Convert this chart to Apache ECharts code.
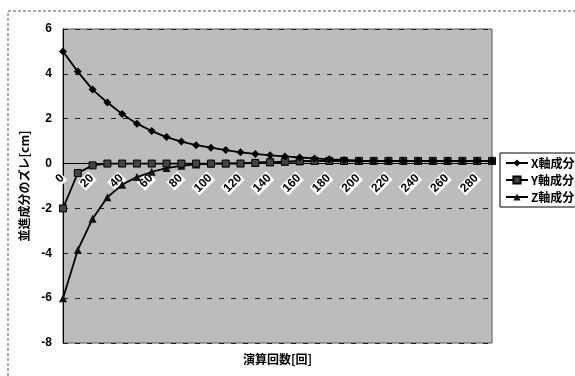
<!DOCTYPE html>
<html><head><meta charset="utf-8">
<script src="https://cdn.jsdelivr.net/npm/echarts@6/dist/echarts.min.js"></script>
<style>html,body{margin:0;padding:0;background:#fff}#c{width:575px;height:376px}</style>
</head><body><div id="c"></div>
<script>
const categories = ['0','10','20','30','40','50','60','70','80','90','100','110','120','130','140','150','160','170','180','190','200','210','220','230','240','250','260','270','280','290'];
const xSeries = [5.0,4.1,3.3,2.72,2.21,1.78,1.45,1.18,0.98,0.82,0.71,0.6,0.5,0.43,0.37,0.32,0.27,0.23,0.19,0.16,0.13,0.12,0.12,0.12,0.12,0.12,0.12,0.12,0.12,0.12];
const ySeries = [-2.0,-0.42,-0.08,0,0,0,0,0,0,0,0,0,0,0.03,0.06,0.09,0.11,0.12,0.12,0.12,0.12,0.12,0.12,0.12,0.12,0.12,0.12,0.12,0.12,0.12];
const zSeries = [-6.0,-3.85,-2.46,-1.5,-0.94,-0.6,-0.37,-0.2,-0.1,-0.04,0,0.01,0.02,0.04,0.06,0.08,0.1,0.11,0.12,0.12,0.12,0.12,0.12,0.12,0.12,0.12,0.12,0.12,0.12,0.12];
const seriesNames = ['X軸成分','Y軸成分','Z軸成分'];
const yTicks = {min:-8, max:6, interval:2};
const xTitle = '演算回数[回]';
const yTitle = '並進成分のズレ[cm]';

const FONT = '"Noto Sans CJK JP", sans-serif';
const NUMFONT = '"Liberation Sans", Arial, sans-serif';
const chart = echarts.init(document.getElementById('c'));
const lineStyle = {color:'#000', width:1.8};
chart.setOption({
  animation:false,
  backgroundColor:'#fff',
  graphic:[{type:'rect', shape:{x:8,y:11,width:640,height:420}, style:{fill:'none', stroke:'#555', lineWidth:1, lineDash:[3,2]}, z:-1}],
  title:{text:xTitle, left:243, top:353, padding:0, textStyle:{fontFamily:FONT, fontSize:12, fontWeight:'bold', color:'#000'}},
  grid:{left:63, right:83, top:29, bottom:33, outerBoundsMode:'none', show:true, backgroundColor:'#bcbcbc', borderColor:'#555', borderWidth:1},
  legend:{
    orient:'vertical', left:500, top:153, padding:[4,6,4,5], itemGap:5,
    itemWidth:22, itemHeight:9,
    borderColor:'#000', borderWidth:1, backgroundColor:'#fff',
    textStyle:{fontFamily:FONT, fontSize:12, fontWeight:'bold', color:'#000', padding:[0,0,0,-2]},
    data:seriesNames
  },
  xAxis:{
    type:'category', data:categories, boundaryGap:false, position:'bottom', offset:0,
    axisLine:{onZero:false, lineStyle:{color:'#000', width:1.2}},
    axisTick:{show:false},
    axisLabel:{interval:1, rotate:45, margin:12, fontFamily:NUMFONT, fontSize:12, fontWeight:'bold', color:'#000', backgroundColor:'#fff', padding:[0,1]},
    splitLine:{show:false}
  },
  yAxis:{
    type:'value', min:yTicks.min, max:yTicks.max, interval:yTicks.interval,
    name:yTitle, nameLocation:'middle', nameGap:33, nameRotate:90,
    nameTextStyle:{fontFamily:FONT, fontSize:12, fontWeight:'bold', color:'#000'},
    axisLine:{show:true, onZero:false, lineStyle:{color:'#000', width:1}},
    axisTick:{show:false},
    axisLabel:{margin:11, fontFamily:NUMFONT, fontSize:12, fontWeight:'bold', color:'#000'},
    splitLine:{show:true, lineStyle:{color:'#222', width:1, type:[5,7]}}
  },
  series:[
    {name:seriesNames[0], type:'line', data:xSeries, symbol:'diamond', symbolSize:8, lineStyle:lineStyle, itemStyle:{color:'#000'}, z:4},
    {name:seriesNames[1], type:'line', data:ySeries, symbol:'rect', symbolSize:7, lineStyle:lineStyle, itemStyle:{color:'#444', borderColor:'#000', borderWidth:1}, z:3},
    {name:seriesNames[2], type:'line', data:zSeries, symbol:'triangle', symbolSize:8, lineStyle:lineStyle, itemStyle:{color:'#111'}, z:2}
  ]
});
// Put the category axis on the y = 0 line, using the value axis's own scale
const zeroPx = chart.convertToPixel({yAxisIndex:0}, 0);
const bottomPx = chart.convertToPixel({yAxisIndex:0}, yTicks.min);
chart.setOption({xAxis:{offset:-(bottomPx - zeroPx)}});
</script></body></html>
